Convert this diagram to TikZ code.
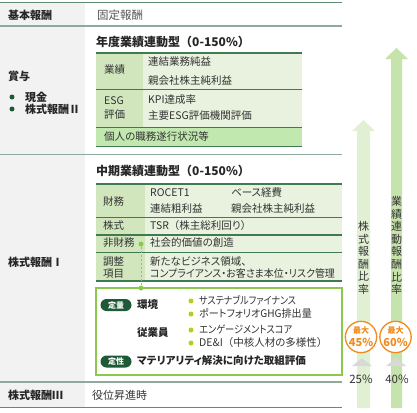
\documentclass[tikz,border=0pt]{standalone}
\usepackage{fontspec}
\setmainfont{Noto Sans CJK JP}[RawFeature=+palt]
\newfontfamily\fwfont{Noto Sans CJK JP}
\newcommand{\jlp}{{\fwfont （}}
\newcommand{\jrp}{{\fwfont ）}}
\usetikzlibrary{arrows.meta}
\definecolor{rowline}{HTML}{8FAA9C}
\definecolor{topline}{HTML}{5E8C74}
\definecolor{leftbg}{HTML}{F2F2F2}
\definecolor{hdrgreen}{HTML}{D2E6BE}
\definecolor{bodygreen}{HTML}{E8F2DE}
\definecolor{tblline}{HTML}{3F7A52}
\definecolor{boxgreen}{HTML}{8CC84B}
\definecolor{pillgreen}{HTML}{1F5A36}
\definecolor{dotyg}{HTML}{B8CC1E}
\definecolor{arrowA}{HTML}{E1F0D2}
\definecolor{arrowB}{HTML}{C7E3AC}
\definecolor{orangec}{HTML}{F08A1C}
\definecolor{txt}{HTML}{333333}
\definecolor{txtgray}{HTML}{555555}
\definecolor{trigray}{HTML}{D9D9D9}
\tikzset{
  lbl/.style={anchor=west, font=\fontsize{11}{13}\selectfont\bfseries, text=black!85},
  head/.style={anchor=west, font=\fontsize{12}{13}\selectfont\bfseries, text=black!85},
  body/.style={anchor=west, font=\fontsize{10.5}{12}\selectfont, text=txt, text height=8pt, text depth=2pt},
  narrow/.style={font=\fontsize{10.5}{12}\selectfont\addfontfeature{FakeStretch=#1}},
  bodyb/.style={anchor=west, font=\fontsize{10.5}{12}\selectfont\bfseries, text=black!85, text height=8pt, text depth=2pt},
  pill/.style={fill=pillgreen, rounded corners=6pt, minimum width=31pt, minimum height=12pt, text=white, font=\fontsize{8}{9}\selectfont\bfseries},
  gdot/.style={circle, fill=boxgreen, minimum size=5pt},
  ydot/.style={circle, fill=dotyg, minimum size=5pt},
  bdot/.style={circle, fill=pillgreen, minimum size=5pt},
  vtext/.style={align=center, font=\fontsize{11}{12.6}\selectfont, text=black!80},
  maxc/.style={circle, draw=orangec, line width=1.3pt, fill=white, minimum size=31pt, align=center, text=orangec},
  hline/.style={draw=rowline, line width=1.3pt},
  tline/.style={draw=tblline, line width=1.3pt},
}
\begin{document}
\begin{tikzpicture}[x=1pt,y=-1pt, every node/.style={inner sep=0pt}]
\useasboundingbox (0,0) rectangle (417,412);
% left column backgrounds
\fill[leftbg] (0,3) rectangle (85,26);
\fill[leftbg] (0,26) rectangle (85,154);
\fill[leftbg] (0,155) rectangle (85,382);
\fill[leftbg] (0,383) rectangle (85,407);
% arrows
\fill[arrowA] (357,408) -- (357,131) -- (352,131) -- (363.5,120) -- (375,131) -- (370,131) -- (370,408) -- cycle;
\fill[arrowB] (391,408) -- (391,59) -- (385,59) -- (396.5,48) -- (408,59) -- (402,59) -- (402,408) -- cycle;
% horizontal row lines
\draw[draw=topline, line width=1.5pt] (0,2.5) -- (342,2.5);
\draw[hline] (0,26) -- (342,26);
\draw[hline] (0,154.5) -- (342,154.5);
\draw[hline, line width=2pt] (0,382) -- (342,382);
\draw[draw=topline, line width=1.5pt] (0,407.5) -- (342,407.5);
% row labels
\node[lbl] (kihon) at (8,15) {基本報酬};
\node[anchor=west, font=\fontsize{11.5}{13}\selectfont, text=txtgray] (kotei) at (97,15) {固定報酬};
\node[lbl] (shoyo) at (8,76) {賞与};
\node[bdot] (b1) at (12,97) {};
\node[lbl] (genkin) at (25,97) {現金};
\node[bdot] (b2) at (12,109) {};
\node[lbl] (kabu2) at (25,109) {株式報酬Ⅱ};
\node[lbl] (kabu1) at (8,262) {株式報酬Ⅰ};
\node[lbl] (kabu3) at (8,395) {株式報酬Ⅲ};
\node[anchor=west, font=\fontsize{11}{13}\selectfont, text=txt] (yakui) at (92,395) {役位昇進時};
% table 1
\node[head] (t1) at (96,42) {年度業績連動型\jlp 0-150\%\jrp};
\fill[bodygreen] (96,53) rectangle (302,146);
\fill[hdrgreen] (96,53) rectangle (143,127);
\fill[hdrgreen!92!green] (96,127) rectangle (302,146);
\draw[tline] (96,53) -- (302,53);
\draw[tline] (96,89.5) -- (302,89.5);
\draw[tline] (96,127.5) -- (302,127.5);
\draw[tline] (96,146.5) -- (302,146.5);
\node[body] (gyoseki) at (104,71) {業績};
\node[body] (g1) at (148,63) {連結業務純益};
\node[body] (g2) at (148,81) {親会社株主純利益};
\node[body] (esg1) at (104,101) {ESG};
\node[body] (esg2) at (104,115) {評価};
\node[body] (e1) at (148,100) {KPI達成率};
\node[body] (e2) at (148,116) {主要ESG評価機関評価};
\node[body] (kojin) at (104,137) {個人の職務遂行状況等};
% table 2
\node[head] (t2) at (96,171) {中期業績連動型\jlp 0-150\%\jrp};
\fill[bodygreen] (96,184) rectangle (342,281);
\fill[hdrgreen] (96,184) rectangle (145,281);
\draw[tline] (96,184) -- (342,184);
\draw[tline] (96,217.5) -- (342,217.5);
\draw[tline] (96,235) -- (342,235);
\draw[tline] (96,252.5) -- (342,252.5);
\draw[tline] (96,281) -- (342,281);
\node[body] (zaimu) at (103,202) {財務};
\node[body] (z1) at (150,193) {ROCET1};
\node[body] (z2) at (231,193) {ベース経費};
\node[body] (z3) at (150,209) {連結粗利益};
\node[body] (z4) at (231,209) {親会社株主純利益};
\node[body] (kabushiki) at (103,226) {株式};
\node[body] (tsr) at (150,226) {TSR\jlp 株主総利回り\jrp};
\node[body] (hizaimu) at (103,243.5) {非財務};
\node[body] (shakai) at (150,243.5) {社会的価値の創造};
\node[body] (chosei1) at (103,262) {調整};
\node[body] (chosei2) at (103,274) {項目};
\node[body] (ch1) at (150,262) {新たなビジネス領域、};
\node[body, narrow=0.95] (ch2) at (150,274) {コンプライアンス・お客さま本位・リスク管理};
% box
\draw[draw=boxgreen, line width=1.3pt, fill=white] (96,288) rectangle (342,375);
\node[gdot] (dA) at (141,244) {};
\node[gdot] (dB) at (141,288) {};
\draw[draw=boxgreen, line width=1pt, dash pattern=on 2.5pt off 1.5pt] (dA) -- (dB);
\node[pill] (teiryo) at (116,305) {定量};
\node[bodyb] (kankyo) at (137,305) {環境};
\node[bodyb] (jugyoin) at (137,333) {従業員};
\node[pill] (teisei) at (116,361.5) {定性};
\node[bodyb] (mat) at (137,361.5) {マテリアリティ解決に向けた取組評価};
\node[ydot] (y1) at (191,301) {};
\node[body, narrow=0.86] (s1) at (199,301) {サステナブルファイナンス};
\node[ydot] (y2) at (191,314) {};
\node[body, narrow=0.96] (s2) at (199,314) {ポートフォリオGHG排出量};
\node[ydot] (y3) at (191,330) {};
\node[body, narrow=0.88] (s3) at (199,330) {エンゲージメントスコア};
\node[ydot] (y4) at (191,343) {};
\node[body] (s4) at (199,343) {DE\&I\jlp 中核人材の多様性\jrp};
% vertical texts
\node[vtext, anchor=north] (vA) at (363.5,221) {株\\式\\報\\酬\\比\\率};
\node[vtext, anchor=north] (vB) at (396.5,196) {業\\績\\連\\動\\報\\酬\\比\\率};
% max circles
\node[maxc] (m1) at (361,337) {{\fontsize{8}{9}\selectfont\bfseries 最大}\\[1pt]{\fontsize{11}{12}\selectfont\bfseries 45\%}};
\node[maxc] (m2) at (395.5,337) {{\fontsize{8}{9}\selectfont\bfseries 最大}\\[1pt]{\fontsize{11}{12}\selectfont\bfseries 60\%}};
% gray triangles
\fill[trigray] (352,366) -- (362,358) -- (372,366) -- cycle;
\fill[trigray] (386,366) -- (396,358) -- (406,366) -- cycle;
\node[font=\fontsize{11.5}{13}\selectfont, text=txt] (p25) at (361,379) {25\%};
\node[font=\fontsize{11.5}{13}\selectfont, text=txt] (p40) at (397,379) {40\%};
\end{tikzpicture}
\end{document}
